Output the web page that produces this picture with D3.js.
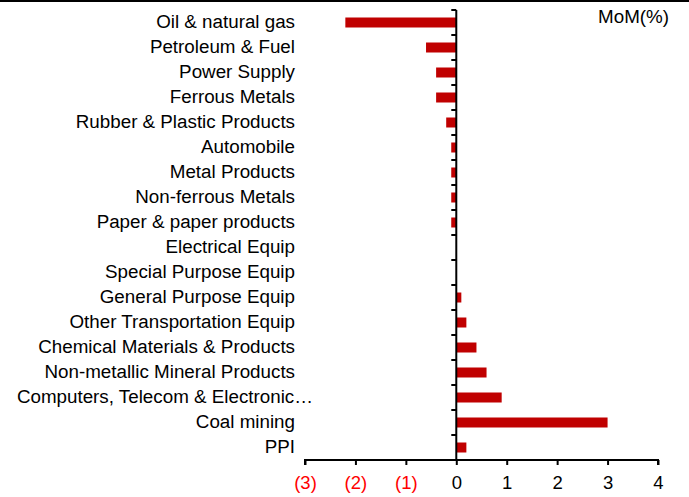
<!DOCTYPE html>
<html>
<head>
<meta charset="utf-8">
<script src="https://cdn.jsdelivr.net/npm/d3@7"></script>
<style>
  html, body { margin: 0; padding: 0; background: #fff; }
  svg { display: block; font-family: "Liberation Sans", Arial, sans-serif; }
</style>
</head>
<body>
<svg id="chart" width="689" height="497"></svg>
<script>
// Industry month-on-month price change (%)
const categories = [
  "Oil & natural gas",
  "Petroleum & Fuel",
  "Power Supply",
  "Ferrous Metals",
  "Rubber & Plastic Products",
  "Automobile",
  "Metal Products",
  "Non-ferrous Metals",
  "Paper & paper products",
  "Electrical Equip",
  "Special Purpose Equip",
  "General Purpose Equip",
  "Other Transportation Equip",
  "Chemical Materials & Products",
  "Non-metallic Mineral Products",
  "Computers, Telecom & Electronic\u2026",
  "Coal mining",
  "PPI"
];
const momValues = [-2.2, -0.6, -0.4, -0.4, -0.2, -0.1, -0.1, -0.1, -0.1, 0, 0, 0.1, 0.2, 0.4, 0.6, 0.9, 3.0, 0.2];
const xTicks = [-3, -2, -1, 0, 1, 2, 3, 4];
const unitLabel = "MoM(%)";

const svg = d3.select("#chart");
const W = 689;

const x = d3.scaleLinear().domain([-3, 4]).range([305, 658]);
const y = d3.scaleBand().domain(categories).range([10, 460]).paddingInner(0.6).paddingOuter(0.3);

// top rule
svg.append("line")
  .attr("x1", 0).attr("x2", W).attr("y1", 1).attr("y2", 1)
  .attr("stroke", "#000").attr("stroke-width", 2);

// bars
svg.append("g").selectAll("rect")
  .data(categories.map((c, i) => ({ c, v: momValues[i] })))
  .join("rect")
  .attr("x", d => x(Math.min(0, d.v)))
  .attr("width", d => Math.abs(x(d.v) - x(0)))
  .attr("y", d => y(d.c))
  .attr("height", y.bandwidth())
  .attr("fill", "#C00000");

// category labels (truncated names overhang the label column a little)
svg.append("g").selectAll("text")
  .data(categories)
  .join("text")
  .attr("x", d => d.endsWith("\u2026") ? 313 : 295)
  .attr("y", d => y(d) + y.bandwidth() / 2 - 1)
  .attr("dy", "0.35em")
  .attr("text-anchor", "end")
  .attr("font-size", 18.8)
  .attr("fill", "#000")
  .text(d => d);

// vertical axis at zero with category boundary ticks
const boundaries = d3.range(categories.length + 1).map(i => y.range()[0] + i * y.step());
const yAxisG = svg.append("g");
yAxisG.append("line")
  .attr("x1", x(0)).attr("x2", x(0))
  .attr("y1", boundaries[0]).attr("y2", boundaries[boundaries.length - 1])
  .attr("stroke", "#000").attr("stroke-width", 2);
yAxisG.selectAll("line.tk")
  .data(boundaries)
  .join("line")
  .attr("class", "tk")
  .attr("x1", x(0) - 5).attr("x2", x(0))
  .attr("y1", d => d).attr("y2", d => d)
  .attr("stroke", "#000").attr("stroke-width", 2);

// horizontal value axis
const xAxis = d3.axisBottom(x)
  .tickValues(xTicks)
  .tickSize(5)
  .tickPadding(11)
  .tickFormat(d => d < 0 ? "(" + Math.abs(d) + ")" : String(d));
const xg = svg.append("g")
  .attr("transform", `translate(0,${boundaries[boundaries.length - 1]})`)
  .call(xAxis);
xg.select(".domain").attr("stroke-width", 2).attr("d", `M${x(-3)},5V0H${x(4)}V5`);
xg.selectAll(".tick line").attr("stroke-width", 2);
xg.selectAll(".tick text")
  .attr("font-size", 18.5)
  .attr("font-family", "Liberation Sans, Arial, sans-serif")
  .attr("fill", d => d < 0 ? "#FF0000" : "#000");

// unit label
svg.append("text")
  .attr("x", 669).attr("y", 16)
  .attr("dy", "0.35em")
  .attr("text-anchor", "end")
  .attr("font-size", 18.8)
  .attr("fill", "#000")
  .text(unitLabel);
</script>
</body>
</html>
